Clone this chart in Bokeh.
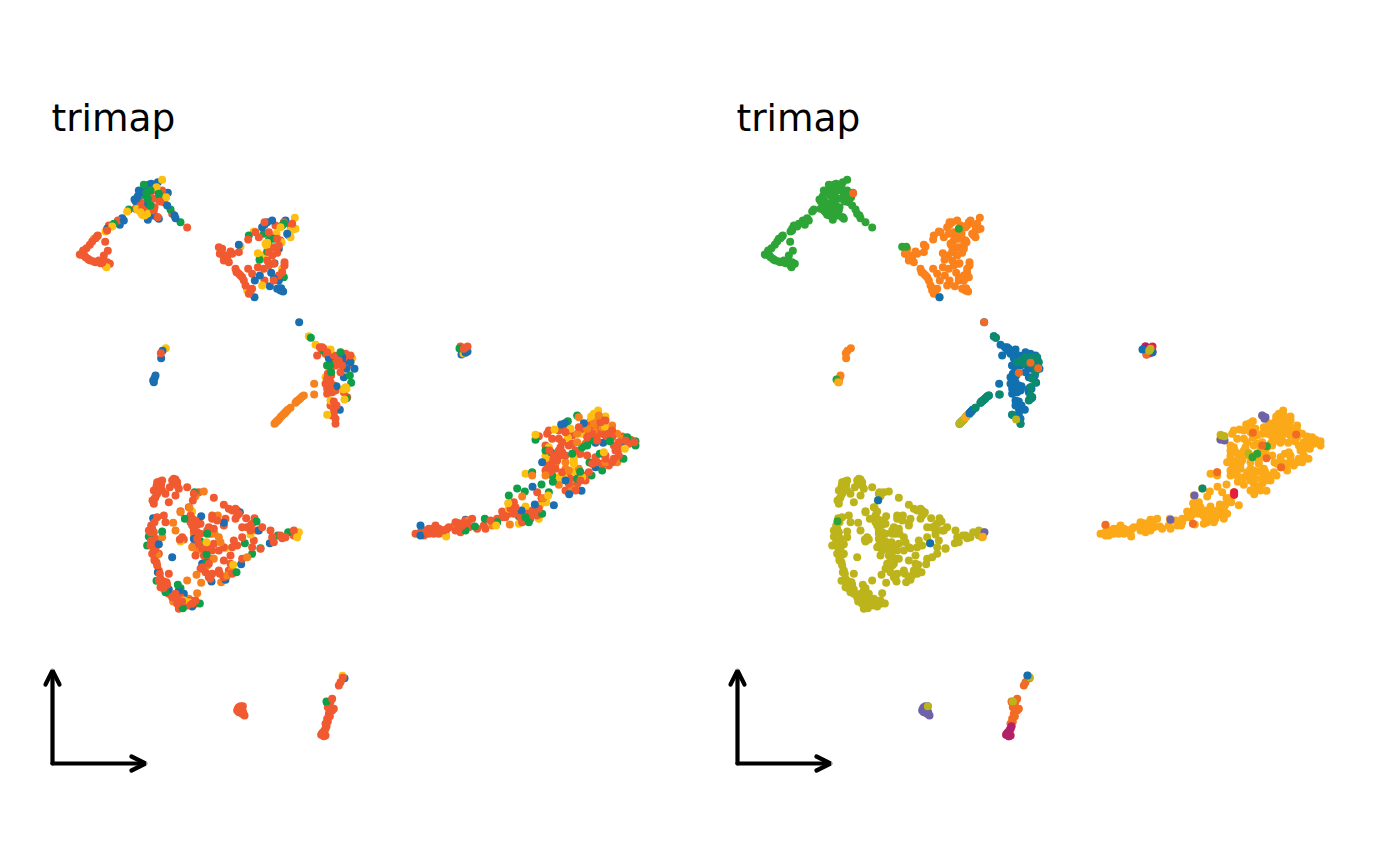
from bokeh.plotting import figure
from bokeh.layouts import row
from bokeh.models import Range1d, Label, Arrow, OpenHead
from bokeh.embed import file_html
from bokeh.resources import INLINE

ORIGIN_TOP = (60, 165)
ORIGIN_LOW = (130, 465)
ORIGIN_TAIL = (405, 400)
ORIGIN_TINY = (445, 335)

LEFT = dict(r="#F15A30", b="#1B6FB0", g="#0E9F48", y="#FDBF11", o="#F6821F")
RIGHT = dict(green="#2EA437", orange="#FA811C", blue="#1170B0", teal="#0C8A70", olive="#BDB41C",
             amber="#FBA918", purple="#6E62A8", magenta="#B3206A", crimson="#E31E3F", verm="#F26B25")

# --- cluster A: upper-left loop
a_r = [(58,267),(68,255),(78,248),(88,238),(95,228),(110,212),(134,229),(142,256),(130,270),(128,285),(75,275),(90,285),(105,290),(120,293),(135,300),(148,295),(140,290),(100,288),(62,268),(72,270),(85,283),(115,285),(145,180),(172,165),(140,195),(105,218),(240,110),(250,120),(280,135),(278,100),(300,80),(310,110),(335,145),(292,155),(305,75),(285,75),(270,95),(225,130),(380,186),(245,130),(262,135),(290,100),(298,108),(282,125),(112,210),(66,262),(82,280),(125,292),(140,298)]
a_b = [(228,100),(235,75),(265,58),(292,50),(322,82),(320,120),(345,158),(185,158),(178,178),(140,190),(262,163),(295,160),(275,150),(240,80),(222,102),(235,105),(260,115),(255,65),(290,155),(232,92),(226,108),(272,55),(342,150),(190,165)]
a_g = [(250,58),(205,132),(270,75),(255,90),(300,95),(270,120),(360,170),(330,132),(160,175),(262,100),(258,82),(295,85)]
a_y = [(305,43),(200,138),(240,140),(245,148),(260,145),(155,183),(135,198),(317,95),(288,65),(230,130),(100,220),(138,305),(235,135),(252,150)]

# --- cluster B: upper-centre triangle
b_r = [(475,245),(485,250),(478,265),(490,285),(500,280),(515,265),(495,270),(505,290),(535,260),(563,222),(595,215),(625,200),(612,170),(670,170),(695,175),(650,220),(640,245),(650,262),(620,285),(625,300),(610,310),(592,305),(640,295),(672,290),(672,300),(563,310),(575,325),(525,310),(535,325),(545,335),(550,345),(555,360),(570,375),(565,385),(530,320),(612,345),(640,345),(665,320),(660,335),(625,260),(585,200),(660,225),(482,258),(490,275),(510,258),(528,320),(540,330),(560,368),(575,370),(635,270),(655,330),(645,180),(690,180),(655,240),(630,215)]
b_b = [(535,238),(620,170),(635,165),(675,165),(685,210),(655,250),(642,293),(632,322),(598,330),(583,345),(628,362),(660,375),(668,378),(650,370),(582,395),(655,345),(605,185),(612,178),(680,205),(655,368),(662,368),(640,340)]
b_g = [(565,210),(640,220),(620,258),(597,283),(670,175),(610,205),(670,335),(625,225),(665,180)]
b_y = [(703,157),(697,192),(580,198),(540,243),(648,205),(620,232),(618,240),(663,230),(592,263),(608,270),(660,185),(690,215),(605,360),(560,375),(665,310),(705,190),(690,195),(615,235)]

# --- cluster C: small pair of clumps
c_r = [(301,563)]
c_b = [(306,556),(302,578),(285,630),(282,638),(278,645),(280,650)]
c_y = [(316,548)]

# --- cluster D: right-hand wedge
d_r = [(778,545),(790,550),(770,570),(800,560),(805,575),(830,590),(825,600),(865,580),(860,600),(810,610),(800,640),(805,660),(820,660),(800,685),(815,680),(820,708),(820,730),(815,750),(825,775),(810,720),(825,760),(855,590),(840,620),(860,695),(850,680),(800,600),(830,575),(870,570),(795,655),(810,672),(825,675),(802,625),(812,630),(815,595),(845,600),(820,745),(828,720),(835,585),(855,565),(785,545),(795,565),(820,570),(810,650),(800,670)]
d_b = [(716,470),(805,578),(850,590),(882,610),(850,635),(838,733),(828,662),(835,570),(848,595),(858,610),(845,575),(870,590)]
d_g = [(751,517),(840,560),(810,598),(868,630),(858,698),(872,652),(800,600),(785,555),(822,582),(812,620)]
d_y = [(745,512),(765,538),(810,552),(818,664),(852,668),(856,665),(852,702),(800,748),(810,705),(875,578),(795,635),(848,672),(858,670)]
d_o = [(761,655),(761,687)]

# --- streak below cluster D
s_o = [(642,775),(648,768),(655,762),(660,755),(668,747),(675,740),(682,733),(690,727),(705,712),(712,705),(720,698),(730,690),(645,772),(652,765),(663,752),(672,744),(678,737),(708,708),(716,702),(725,693)]

# --- cluster E: big lower triangle
e_r = [(80,50),(95,45),(130,40),(125,45),(140,50),(145,70),(118,65),(70,75),(85,70),(75,95),(70,115),(80,85),(105,85),(115,110),(135,90),(170,65),(190,85),(205,80),(187,105),(250,97),(150,137),(175,125),(280,118),(295,130),(315,130),(325,145),(315,160),(347,158),(372,158),(250,155),(245,160),(260,165),(285,160),(280,180),(185,160),(185,180),(200,178),(190,195),(235,185),(250,190),(230,195),(240,205),(155,215),(148,222),(105,170),(80,155),(100,150),(65,190),(60,210),(70,230),(60,240),(85,265),(65,265),(80,300),(85,315),(115,325),(90,340),(95,355),(100,365),(130,395),(145,405),(150,420),(165,410),(195,415),(145,430),(335,185),(350,185),(365,175),(360,195),(395,185),(380,195),(420,195),(425,215),(430,230),(450,210),(465,215),(490,195),(490,210),(310,225),(320,240),(335,215),(365,245),(370,225),(390,250),(300,270),(280,285),(265,315),(268,325),(300,295),(305,325),(225,320),(235,335),(245,325),(210,310),(220,270),(240,280),(245,255),(265,255),(280,245),(195,270),(230,245),(190,240),(215,250),(200,220),(160,222),(305,245),(335,280),(88,48),(78,62),(92,58),(82,78),(66,105),(72,100),(135,42),(140,60),(128,52),(72,170),(62,180),(70,200),(55,195),(62,225),(75,220),(75,250),(70,255),(78,290),(72,285),(88,325),(85,345),(100,348),(108,350),(90,365),(115,385),(135,385),(125,395),(150,395),(170,420),(155,408),(180,405),(195,405),(210,175),(180,170),(195,165),(245,150),(320,135),(200,200),(210,205),(250,235),(360,180),(455,218),(205,235),(225,285),(235,295),(215,305),(240,340),(280,335),(295,315),(180,150),(305,135),(320,150),(200,250),(95,75),(60,200),(75,240),(98,368),(110,358),(140,415),(185,415)]
e_o = [(128,172),(135,195),(177,127),(95,215),(80,268),(72,280),(190,205),(262,150),(265,215),(270,230),(185,245),(200,255),(215,248),(230,300),(198,328),(170,345),(212,352),(272,350),(290,330),(305,310),(350,275),(200,383),(128,408),(175,400),(150,140),(220,78),(250,280),(252,205),(195,92)]
e_b = [(68,158),(85,236),(125,275),(212,152),(190,220),(280,172),(328,140),(385,195),(332,296),(418,233),(285,343),(243,348),(82,320),(115,372),(105,375),(145,375),(160,385),(185,423),(215,295),(490,208)]
e_g = [(163,160),(55,213),(95,198),(50,240),(210,228),(230,205),(228,267),(228,292),(343,233),(365,265),(390,248),(318,320),(78,346),(142,358),(105,380),(150,368),(157,428),(208,414),(442,210),(473,200),(192,80),(85,52),(378,168)]
e_y = [(185,138),(228,230),(360,207),(308,298),(505,200),(500,215),(160,405),(175,410),(150,228),(285,248)]

# --- cluster F: small blob at the bottom
f_r = [(325,725),(332,730),(325,740),(335,745),(342,750),(320,735),(337,722),(322,730),(330,722),(328,735),(338,740),(332,738)]

# --- cluster G: bottom streak
g_r = [(637,637),(625,660),(630,650),(605,700),(595,715),(600,730),(610,730),(595,745),(590,760),(585,775),(585,790),(578,800),(572,808),(585,810),(580,812),(575,803),(600,708),(592,725),(605,735),(598,752),(592,768),(582,795),(588,782),(598,720)]
g_b = [(642,638),(590,712)]
g_g = [(588,708)]
g_y = [(636,631)]

# --- cluster H: lower-right tail and plume
h_r = [(30,400),(45,395),(60,390),(70,400),(80,385),(90,380),(100,385),(110,395),(125,385),(120,400),(85,400),(100,400),(55,405),(70,385),(90,375),(150,365),(160,385),(150,390),(165,395),(180,360),(190,380),(200,355),(215,385),(235,375),(240,385),(255,360),(290,350),(275,355),(325,305),(315,325),(330,320),(325,340),(300,350),(345,350),(365,340),(380,330),(400,325),(375,355),(290,333),(350,365),(395,345),(400,107),(430,90),(460,90),(440,115),(470,125),(465,140),(480,95),(520,80),(545,110),(580,80),(610,100),(640,125),(630,150),(620,185),(600,175),(610,195),(570,170),(545,165),(525,160),(500,130),(480,165),(455,180),(430,195),(425,205),(435,215),(420,210),(450,205),(490,215),(540,240),(510,270),(480,270),(515,250),(490,250),(460,150),(600,105),(560,100),(675,118),(687,125),(395,275),(408,293),(440,180),(575,120),(40,400),(52,398),(65,395),(75,392),(95,395),(105,388),(115,390),(130,380),(160,368),(170,375),(185,368),(335,332),(355,335),(385,340),(310,340),(460,115),(490,135),(510,150),(530,85),(555,85),(585,100),(620,110),(650,108),(625,135),(600,165),(590,190),(575,185),(470,155),(425,185),(440,200),(465,165),(495,235),(525,240),(505,258),(420,135),(432,150),(445,165),(470,215),(480,225),(520,225),(535,225),(550,215),(560,190),(625,175),(640,165),(640,145),(660,120),(670,130),(600,90),(620,90),(570,110),(550,95),(540,130),(500,105),(480,80),(425,100),(600,60),(585,65),(555,75)]
h_b = [(45,375),(45,405),(180,358),(348,330),(388,312),(445,314),(381,259),(491,281),(528,271),(570,200),(467,72),(478,68),(520,160),(593,127),(570,127),(410,185),(535,68),(480,240),(650,130)]
h_g = [(335,264),(310,285),(430,275),(358,273),(408,252),(442,244),(340,347),(360,350),(370,365),(238,355),(208,378),(275,365),(180,390),(410,340),(380,215),(438,157),(462,158),(530,140),(545,135),(560,120),(552,186),(558,225),(524,214),(654,175),(690,122),(665,110),(690,135),(613,122),(583,160),(590,60),(487,62),(390,118),(515,45),(500,160),(420,150),(515,235),(590,210),(440,225)]
h_y = [(308,308),(360,318),(405,312),(422,305),(390,103),(447,87),(495,85),(487,112),(557,48),(578,30),(600,48),(598,78),(658,145),(430,140),(420,175),(505,170),(505,190),(460,230),(475,230),(505,213),(530,230),(595,155),(272,375),(122,408),(375,345),(400,355),(340,370),(310,325),(428,285),(550,70),(530,100),(360,220),(505,180),(420,165),(565,40),(490,100)]
h_o = [(350,288),(413,293),(460,253),(313,372),(348,365),(380,225),(555,62),(565,58),(520,50),(580,45),(515,100),(545,85),(620,75),(635,100),(635,185),(600,185),(565,90),(480,185),(515,125),(450,190),(420,225),(500,265),(490,210),(145,378),(260,375),(190,360),(565,70),(590,80),(610,85),(650,115),(450,170),(480,205),(520,205)]

# --- cluster I: tiny clump
i_r = [(45,33),(66,33),(55,40)]
i_b = [(66,48),(48,57),(60,52)]
i_g = [(42,39)]
i_y = [(54,54)]

# --- right panel: points that differ from the base colour of their cluster
a_x_orange = [(323,83)]
b_x_green = [(470,244),(482,244),(640,190)]
b_x_blue = [(582,395)]
c_x_green = [(273,642)]
c_x_amber = [(278,650)]
d_x_teal = [(825,585),(840,575),(860,575),(875,575),(880,590),(865,600),(870,620),(860,640),(870,650),(855,665),(860,695),(850,705),(855,690),(835,595),(800,748),(825,775),(815,590),(845,590),(745,512),(751,517),(763,687)]
d_x_verm = [(716,470),(855,592),(878,608),(820,622)]
d_x_olive = [(812,762)]
s_x_olive = [(642,775),(648,768),(655,762),(645,772),(652,765)]
s_x_amber = [(660,755),(668,747),(663,752)]
s_x_blue = [(675,740),(682,733),(672,744),(678,737)]
s_x_teal = [(690,727),(705,712),(712,705),(720,698),(730,690),(708,708),(716,702),(725,693)]
e_x_blue = [(188,104),(344,233)]
e_x_green = [(66,167)]
e_x_purple = [(507,200)]
e_x_amber = [(502,214)]
f_x_olive = [(337,722)]
g_x_olive = [(592,708),(643,636)]
g_x_blue = [(636,630)]
g_x_magenta = [(585,790),(578,800),(572,808),(585,810),(580,812),(575,803),(582,795),(588,782)]
h_x_purple = [(515,45),(525,50),(522,55),(390,117),(402,120),(240,358)]
h_x_olive = [(392,105),(402,107),(474,158)]
h_x_green = [(529,137),(500,160),(486,170)]
h_x_verm = [(617,102),(528,173),(572,200),(307,370),(45,373),(380,215),(487,97),(515,135)]
h_x_teal = [(336,264)]
h_x_slate = [(312,285)]
h_x_crimson = [(431,275),(431,283)]
i_x_verm = [(48,57)]
i_x_olive = [(60,40),(56,46)]
i_x_blue = [(66,51),(36,42)]
i_x_magenta = [(45,33)]

# --- arrows standing in for axes (page px)
arrow_corner = (52, 763)
arrow_x_end = 145
arrow_y_end = 670
panel_title = "trimap"


def place(points, origin):
    return [(origin[0] + x / 3, origin[1] + y / 3) for x, y in points]


left_groups = [
    (ORIGIN_TOP, dict(r=a_r + b_r + c_r + d_r, b=a_b + b_b + c_b + d_b, g=a_g + b_g + d_g, y=a_y + b_y + c_y + d_y, o=d_o + s_o)),
    (ORIGIN_LOW, dict(r=e_r + f_r + g_r, b=e_b + g_b, g=e_g + g_g, y=e_y + g_y, o=e_o)),
    (ORIGIN_TAIL, dict(r=h_r, b=h_b, g=h_g, y=h_y, o=h_o)),
    (ORIGIN_TINY, dict(r=i_r, b=i_b, g=i_g, y=i_y)),
]

left_pts = []
for origin, groups in left_groups:
    for code, pts in groups.items():
        left_pts += [(x, y, LEFT[code]) for x, y in place(pts, origin)]
# Colours are interleaved rather than painted one colour at a time.
left_pts.sort(key=lambda q: (int(q[0] * 7) + int(q[1] * 13)) % 101)

right_pts = []


def add_right(points, origin, name):
    right_pts.extend((x, y, RIGHT[name]) for x, y in place(points, origin))


add_right(a_r + a_b + a_g + a_y, ORIGIN_TOP, "green")
add_right(b_r + b_b + b_g + b_y, ORIGIN_TOP, "orange")
add_right(c_r + c_b + c_y, ORIGIN_TOP, "orange")
add_right(d_r + d_b + d_g + d_y + d_o, ORIGIN_TOP, "blue")
add_right(s_o, ORIGIN_TOP, "teal")
add_right(e_r + e_o + e_b + e_g + e_y, ORIGIN_LOW, "olive")
add_right(f_r, ORIGIN_LOW, "purple")
add_right(g_r + g_b + g_g + g_y, ORIGIN_LOW, "verm")
add_right(h_r + h_b + h_g + h_y + h_o, ORIGIN_TAIL, "amber")
add_right(i_r + i_b + i_g + i_y, ORIGIN_TINY, "crimson")
for pts, origin, name in [
    (a_x_orange, ORIGIN_TOP, "verm"), (b_x_green, ORIGIN_TOP, "green"), (b_x_blue, ORIGIN_TOP, "blue"),
    (c_x_green, ORIGIN_TOP, "green"), (c_x_amber, ORIGIN_TOP, "amber"), (d_x_teal, ORIGIN_TOP, "teal"),
    (d_x_verm, ORIGIN_TOP, "verm"), (d_x_olive, ORIGIN_TOP, "olive"), (s_x_olive, ORIGIN_TOP, "olive"),
    (s_x_amber, ORIGIN_TOP, "amber"), (s_x_blue, ORIGIN_TOP, "blue"), (s_x_teal, ORIGIN_TOP, "teal"),
    (e_x_blue, ORIGIN_LOW, "blue"), (e_x_green, ORIGIN_LOW, "green"), (e_x_purple, ORIGIN_LOW, "purple"),
    (e_x_amber, ORIGIN_LOW, "amber"), (f_x_olive, ORIGIN_LOW, "olive"), (g_x_olive, ORIGIN_LOW, "olive"),
    (g_x_blue, ORIGIN_LOW, "blue"), (g_x_magenta, ORIGIN_LOW, "magenta"), (h_x_purple, ORIGIN_TAIL, "purple"),
    (h_x_olive, ORIGIN_TAIL, "olive"), (h_x_green, ORIGIN_TAIL, "green"), (h_x_verm, ORIGIN_TAIL, "verm"),
    (h_x_teal, ORIGIN_TAIL, "teal"), (h_x_slate, ORIGIN_TAIL, "purple"), (h_x_crimson, ORIGIN_TAIL, "crimson"),
    (i_x_verm, ORIGIN_TINY, "verm"), (i_x_magenta, ORIGIN_TINY, "magenta"), (i_x_blue, ORIGIN_TINY, "blue"),
    (i_x_olive, ORIGIN_TINY, "olive"),
]:
    add_right(pts, origin, name)


def panel(pts):
    # The rendered page places the figure at the window's origin, so the ranges start at 0.
    p = figure(width=685, height=850, x_range=Range1d(0, 685), y_range=Range1d(850, 0),
               x_axis_type=None, y_axis_type=None, output_backend="svg", toolbar_location=None,
               min_border=0, outline_line_color=None, background_fill_color="white")
    p.grid.visible = False
    p.scatter([q[0] for q in pts], [q[1] for q in pts], color=[q[2] for q in pts],
              size=8, line_color=None)
    p.add_layout(Label(x=51, y=117, text=panel_title, text_font="DejaVu Sans", text_font_size="37.5px",
                       text_color="black", text_baseline="alphabetic"))
    cx, cy = arrow_corner
    for xe, ye in [(arrow_x_end, cy), (cx, arrow_y_end)]:
        p.add_layout(Arrow(x_start=cx, y_start=cy, x_end=xe, y_end=ye, line_width=4.2, line_color="black",
                           line_cap="round",
                           end=OpenHead(size=14, line_width=4.2, line_color="black", line_cap="round")))
    return p


layout = row(panel(left_pts), panel(right_pts), spacing=0)
open("out.html", "w").write(file_html(layout, INLINE))
